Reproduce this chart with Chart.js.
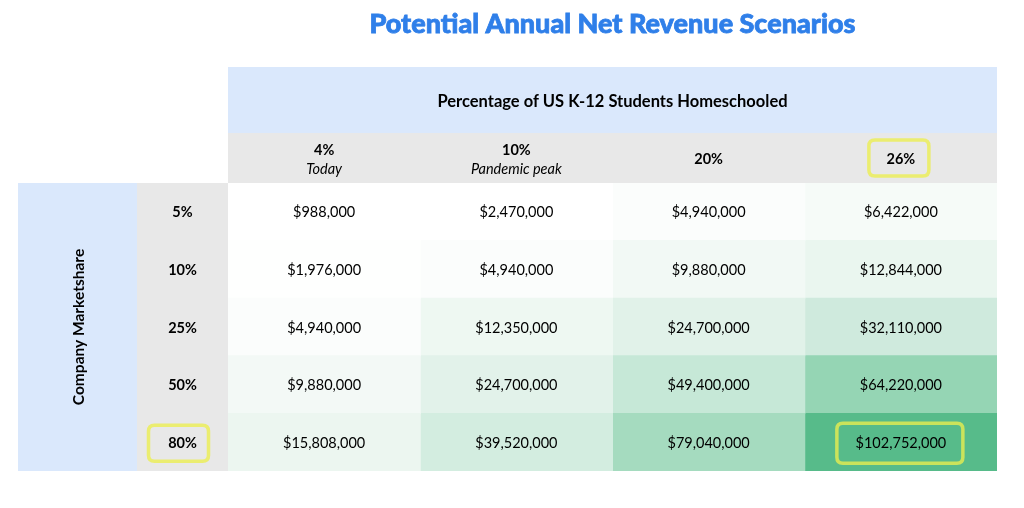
<!DOCTYPE html>
<html>
<head>
<meta charset="utf-8">
<script src="https://cdn.jsdelivr.net/npm/chart.js@4/dist/chart.umd.min.js"></script>
<style>
  html, body { margin: 0; padding: 0; background: #ffffff; }
  #wrap { width: 1024px; height: 508px; position: relative; }
</style>
</head>
<body>
<div id="wrap"><canvas id="c" width="1024" height="508"></canvas></div>
<script>
// ---- data ----
const chartTitle = 'Potential Annual Net Revenue Scenarios';
const columnTitle = 'Percentage of US K-12 Students Homeschooled';
const rowTitle = 'Company Marketshare';
const columnLabels = ['4%', '10%', '20%', '26%'];
const columnNotes = ['Today', 'Pandemic peak', '', ''];
const rowLabels = ['5%', '10%', '25%', '50%', '80%'];
const homeschool4 = [988000, 1976000, 4940000, 9880000, 15808000];
const homeschool10 = [2470000, 4940000, 12350000, 24700000, 39520000];
const homeschool20 = [4940000, 9880000, 24700000, 49400000, 79040000];
const homeschool26 = [6422000, 12844000, 32110000, 64220000, 102752000];
const highlightedColumn = '26%';
const highlightedRow = '80%';

// ---- styles (cell shading, per column) ----
const shade4 = ['#ffffff', '#fefffe', '#fbfdfc', '#f3f9f6', '#ecf6f0'];
const shade10 = ['#ffffff', '#fbfdfc', '#eef8f2', '#e2f2ea', '#d3ede0'];
const shade20 = ['#fbfdfc', '#f2f9f5', '#e1f2e9', '#c6e8d7', '#a5dbbf'];
const shade26 = ['#f6fbf8', '#eaf6ef', '#cfeadd', '#95d5b4', '#57bb8a'];

const columnValues = [homeschool4, homeschool10, homeschool20, homeschool26];
const columnShades = [shade4, shade10, shade20, shade26];

const FONT = 'Lato, "Noto Sans", sans-serif';
const BLUE_BAND = '#dae8fc';
const GRAY = '#e8e8e8';
const MARKER = 'rgba(236,238,78,0.78)';
const TY = 1; // baseline nudge for middle-aligned text

const datasets = columnLabels.map((lab, ci) => ({
  label: lab,
  data: rowLabels.map((r, ri) => ({ y: r, x: [ci, ci + 1], v: columnValues[ci][ri] })),
  backgroundColor: columnShades[ci],
  borderWidth: 0,
  borderSkipped: false,
  grouped: false,
  barPercentage: 1,
  categoryPercentage: 1,
  inflateAmount: 0.5
}));

function fmt(v) { return '$' + v.toLocaleString('en-US'); }

function roundRect(ctx, x, y, w, h, r) {
  ctx.beginPath();
  ctx.moveTo(x + r, y);
  ctx.lineTo(x + w - r, y);
  ctx.quadraticCurveTo(x + w, y, x + w, y + r);
  ctx.lineTo(x + w, y + h - r);
  ctx.quadraticCurveTo(x + w, y + h, x + w - r, y + h);
  ctx.lineTo(x + r, y + h);
  ctx.quadraticCurveTo(x, y + h, x, y + h - r);
  ctx.lineTo(x, y + r);
  ctx.quadraticCurveTo(x, y, x + r, y);
  ctx.closePath();
}

function marker(ctx, cx, cy, hw, hh) {
  ctx.save();
  ctx.strokeStyle = MARKER;
  ctx.lineWidth = 3.5;
  ctx.lineJoin = 'round';
  roundRect(ctx, cx - hw, cy - hh, hw * 2, hh * 2, 6);
  ctx.stroke();
  ctx.restore();
}

const tablePlugin = {
  id: 'tablePlugin',
  beforeDatasetsDraw(chart) {
    const { ctx, chartArea: a } = chart;
    const headTop = a.top - 116, headMid = a.top - 50;
    ctx.save();
    ctx.fillStyle = BLUE_BAND;
    ctx.fillRect(a.left, headTop, a.right - a.left, headMid - headTop);
    ctx.fillStyle = GRAY;
    ctx.fillRect(a.left, headMid, a.right - a.left, a.top - headMid);
    ctx.fillStyle = BLUE_BAND;
    ctx.fillRect(a.left - 210, a.top, 119, a.bottom - a.top);
    ctx.fillStyle = GRAY;
    ctx.fillRect(a.left - 91, a.top, 91, a.bottom - a.top);
    ctx.restore();
  },
  afterDatasetsDraw(chart) {
    const { ctx, chartArea: a, scales } = chart;
    const xs = scales.x, ys = scales.y;
    const headTop = a.top - 116, headMid = a.top - 50;
    ctx.save();
    ctx.textAlign = 'center';
    ctx.textBaseline = 'middle';

    // title (slightly stroked to emulate a black weight)
    ctx.fillStyle = '#2f7fe9';
    ctx.strokeStyle = '#2f7fe9';
    ctx.lineWidth = 0.8;
    ctx.font = '900 27px ' + FONT;
    ctx.fillText(chartTitle, (a.left + a.right) / 2, 24);
    ctx.strokeText(chartTitle, (a.left + a.right) / 2, 24);

    // column group title
    ctx.fillStyle = '#000000';
    ctx.font = 'bold 16.5px ' + FONT;
    ctx.fillText(columnTitle, (a.left + a.right) / 2, (headTop + headMid) / 2 + TY + 1);

    // column headers
    const hy = (headMid + a.top) / 2;
    columnLabels.forEach((lab, ci) => {
      const cx = xs.getPixelForValue(ci + 0.5);
      if (columnNotes[ci]) {
        ctx.font = 'bold 14.5px ' + FONT;
        ctx.fillText(lab, cx, hy - 9.5 + TY + 1);
        ctx.font = 'italic 14.5px ' + FONT;
        ctx.fillText(columnNotes[ci], cx, hy + 10 + TY);
      } else {
        ctx.font = 'bold 14.5px ' + FONT;
        ctx.fillText(lab, cx, hy + TY);
      }
    });

    // row labels
    const rx = a.left - 45.5;
    ctx.font = 'bold 14.5px ' + FONT;
    rowLabels.forEach((r, ri) => {
      ctx.fillText(r, rx, ys.getPixelForValue(ri) + TY);
    });

    // row group title (rotated)
    ctx.save();
    ctx.translate(a.left - 149, (a.top + a.bottom) / 2);
    ctx.rotate(-Math.PI / 2);
    ctx.font = 'bold 15.5px ' + FONT;
    ctx.fillText(rowTitle, 0, 0);
    ctx.restore();

    // cell values
    ctx.font = '14.5px ' + FONT;
    chart.data.datasets.forEach((ds, ci) => {
      const meta = chart.getDatasetMeta(ci);
      meta.data.forEach((el, ri) => {
        const p = el.getProps(['x', 'y', 'base'], true);
        ctx.fillText(fmt(ds.data[ri].v), (p.x + p.base) / 2, p.y + TY);
      });
    });

    // highlight markers
    const hc = columnLabels.indexOf(highlightedColumn);
    const hr = rowLabels.indexOf(highlightedRow);
    const colX = xs.getPixelForValue(hc + 0.5);
    const rowY = ys.getPixelForValue(hr);
    marker(ctx, colX - 2, hy, 30, 18);
    marker(ctx, rx - 4, rowY + 1, 30, 18);
    marker(ctx, colX - 1, rowY + 1, 63, 20);
    ctx.restore();
  }
};

new Chart(document.getElementById('c'), {
  type: 'bar',
  data: { labels: rowLabels, datasets: datasets },
  options: {
    indexAxis: 'y',
    responsive: false,
    animation: false,
    devicePixelRatio: 1,
    layout: { padding: { left: 228, right: 27, top: 183, bottom: 37 } },
    scales: {
      x: { type: 'linear', min: 0, max: columnLabels.length, display: false },
      y: { type: 'category', display: false, offset: true }
    },
    plugins: {
      legend: { display: false },
      title: { display: false },
      tooltip: { enabled: false }
    }
  },
  plugins: [tablePlugin]
});
</script>
</body>
</html>
